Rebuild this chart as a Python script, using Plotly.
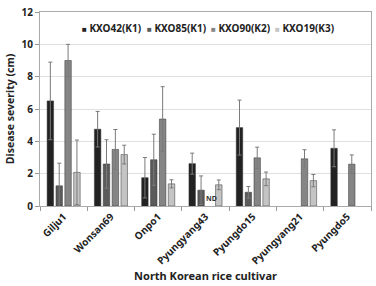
import plotly.graph_objects as go

cultivars = ["Gilju1", "Wonsan69", "Onpo1", "Pyungyang43", "Pyungdo15", "Pyungyang21", "Pyungdo5"]
series_names = ["KXO42(K1)", "KXO85(K1)", "KXO90(K2)", "KXO19(K3)"]
kxo42 = [6.5, 4.75, 1.75, 2.62, 4.85, None, 3.57]
kxo42_err = [2.4, 1.1, 1.25, 0.65, 1.7, None, 1.14]
kxo85 = [1.25, 2.6, 2.86, 0.98, 0.85, None, None]
kxo85_err = [1.4, 1.5, 1.58, 0.88, 0.36, None, None]
kxo90 = [9.0, 3.5, 5.38, None, 2.98, 2.92, 2.59]
kxo90_err = [1.0, 1.23, 2.0, None, 0.66, 0.56, 0.57]
kxo19 = [2.08, 3.18, 1.37, 1.31, 1.68, 1.57, None]
kxo19_err = [2.0, 0.58, 0.25, 0.3, 0.42, 0.38, None]
colors = ["#222222", "#5b5b5b", "#858585", "#c4c4c4"]

values = [kxo42, kxo85, kxo90, kxo19]
errors = [kxo42_err, kxo85_err, kxo90_err, kxo19_err]

FONT = "Noto Sans"
fig = go.Figure()
for name, v, e, c in zip(series_names, values, errors, colors):
    fig.add_trace(go.Bar(
        x=cultivars, y=v, name=name,
        marker=dict(color=c, line=dict(color="#333333", width=0.5)),
        error_y=dict(type="data", array=e, visible=True, color="#7a7a7a", thickness=1, width=2),
        showlegend=False,
    ))

# legend drawn as text annotations
leg_x = [0.12, 0.318, 0.511, 0.704]
for name, c, lx in zip(series_names, colors, leg_x):
    fig.add_annotation(
        xref="paper", yref="paper", x=lx, y=0.918, xanchor="left", yanchor="middle",
        text=f"<span style='color:{c};font-size:8px'>■</span> <b>{name}</b>", showarrow=False,
        font=dict(family=FONT, size=10, color="#222222"),
    )

fig.add_annotation(x="Pyungyang43", y=0, xshift=5.5, yshift=1, yanchor="bottom",
                   text="<b>ND</b>", showarrow=False,
                   font=dict(family=FONT, size=7, color="#333333"))

fig.update_layout(
    width=376, height=286,
    margin=dict(l=40, r=4, t=10, b=80),
    paper_bgcolor="white", plot_bgcolor="white",
    barmode="group", bargap=0.25, bargroupgap=0.27,
    font=dict(family=FONT, color="#222222"),
)
fig.update_xaxes(
    tickson="boundaries", ticks="outside", ticklen=4, tickcolor="#999999",
    tickangle=-45, tickfont=dict(family=FONT, size=10, color="#222222", weight="bold"),
    showline=True, linecolor="#aaaaaa", linewidth=1, mirror=True,
    title=dict(text="<b>North Korean rice cultivar</b>", font=dict(family=FONT, size=11), standoff=6),
)
fig.update_yaxes(
    range=[0, 12], dtick=2, ticks="outside", ticklen=4, tickcolor="#999999",
    tickfont=dict(family=FONT, size=10, color="#222222", weight="bold"),
    showgrid=True, gridcolor="#e0e0e0", gridwidth=1,
    showline=True, linecolor="#aaaaaa", linewidth=1, mirror=True,
    zeroline=False,
    title=dict(text="<b>Disease severity (cm)</b>", font=dict(family=FONT, size=10.5), standoff=4),
)

fig.write_html("out.html")
